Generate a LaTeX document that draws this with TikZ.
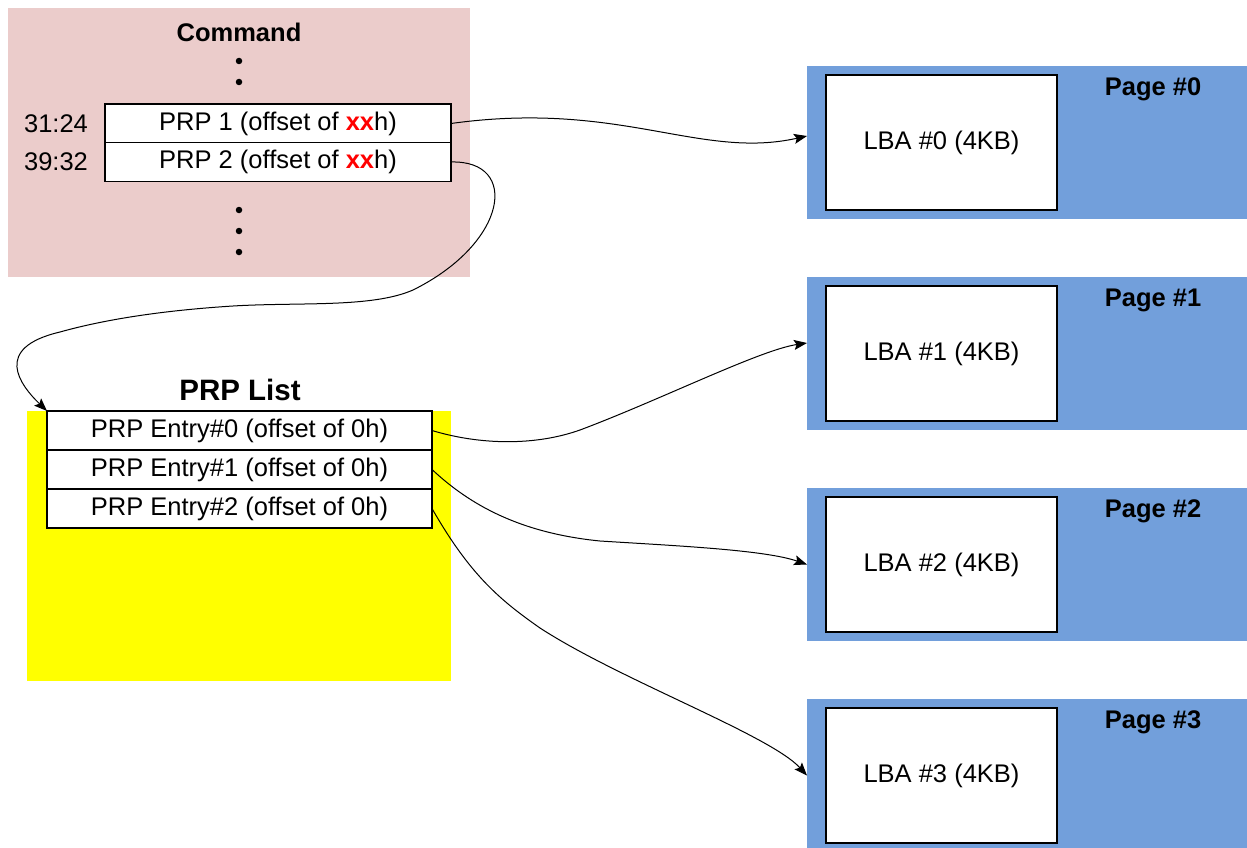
\documentclass[tikz,border=0pt]{standalone}
\usepackage{fontspec}
\setmainfont{Liberation Sans}
\usetikzlibrary{arrows.meta}
\definecolor{cmdpink}{RGB}{235,204,203}
\definecolor{pageblue}{RGB}{114,159,219}
\definecolor{listyellow}{RGB}{255,255,0}
\begin{document}
\begin{tikzpicture}[x=1pt,y=-1pt,
  every node/.style={inner sep=0pt, outer sep=0pt, font=\fontsize{25.5}{30}\selectfont},
  bg/.style={fill=#1, draw=none, anchor=north west},
  cell/.style={draw=black, line width=1.5pt, fill=white, anchor=north west, minimum height=39pt},
  title/.style={font=\fontsize{25.5}{30}\selectfont\bfseries},
  conn/.style={draw=black, line width=1pt, -{Stealth[length=13pt,width=10pt,inset=2.5pt]}},
  dot/.style={circle, fill=black, minimum size=6.5pt}]
\useasboundingbox (0,0) rectangle (1247,848);
% Command block
\node[bg=cmdpink, minimum width=462pt, minimum height=269pt] (cmd) at (8,8) {};
\node[title] (cmdtitle) at (239,32) {Command};
\node[dot] (d1) at (239,61) {};
\node[dot] (d2) at (239,82) {};
\node[cell, minimum width=346pt] (p1) at (105,104) {PRP 1 (offset of \textcolor{red}{\textbf{xx}}h)};
\node[cell, minimum width=346pt] (p2) at (105,142.5) {PRP 2 (offset of \textcolor{red}{\textbf{xx}}h)};
\node (l1) at (56,124) {31:24};
\node (l2) at (56,162) {39:32};
\node[dot] (d3) at (239,210) {};
\node[dot] (d4) at (239,231) {};
\node[dot] (d5) at (239,252) {};
% PRP list
\node[bg=listyellow, minimum width=424pt, minimum height=270pt] (list) at (27,411) {};
\node[font=\fontsize{29.5}{34}\selectfont\bfseries] (listtitle) at (240,390) {PRP List};
\node[cell, minimum width=385pt] (e0) at (47,411) {PRP Entry\#0 (offset of 0h)};
\node[cell, minimum width=385pt] (e1) at (47,450) {PRP Entry\#1 (offset of 0h)};
\node[cell, minimum width=385pt] (e2) at (47,489) {PRP Entry\#2 (offset of 0h)};
% Pages
\foreach \i/\y in {0/66,1/277,2/488,3/699} {
  \node[bg=pageblue, minimum width=440pt, minimum height=153pt] (pg\i) at (807,\y) {};
  \node[cell, minimum width=231pt, minimum height=135pt] (lba\i) at (826,\y+9) {LBA \#\i\ (4KB)};
  \node[title] (pt\i) at (1153,\y+23) {Page \#\i};
}
\coordinate (in0) at ([yshift=6.5pt]pg0.west);
\coordinate (in1) at ([yshift=10.5pt]pg1.west);
\coordinate (in2) at (pg2.west);
\coordinate (in3) at (pg3.west);
% Connectors
\draw[conn] (p1.east) .. controls (620,100) and (700,160) .. (in0);
\draw[conn] (p2.east) .. controls (520,160) and (508,243) .. (413,290)
  .. controls (372,308) and (300,302) .. (233,306)
  .. controls (170,310) and (110,318) .. (60,332)
  .. controls (-8,348) and (20,385) .. (e0.north west);
\draw[conn] (e0.east) .. controls (480,445) and (535,446) .. (580,430)
  .. controls (660,400) and (760,350) .. (in1);
\draw[conn] (e1.east) .. controls (470,505) and (520,533) .. (600,541)
  .. controls (680,546) and (765,550) .. (in2);
\draw[conn] (e2.east) .. controls (470,575) and (500,600) .. (540,628)
  .. controls (620,680) and (770,735) .. (in3);
\end{tikzpicture}
\end{document}
